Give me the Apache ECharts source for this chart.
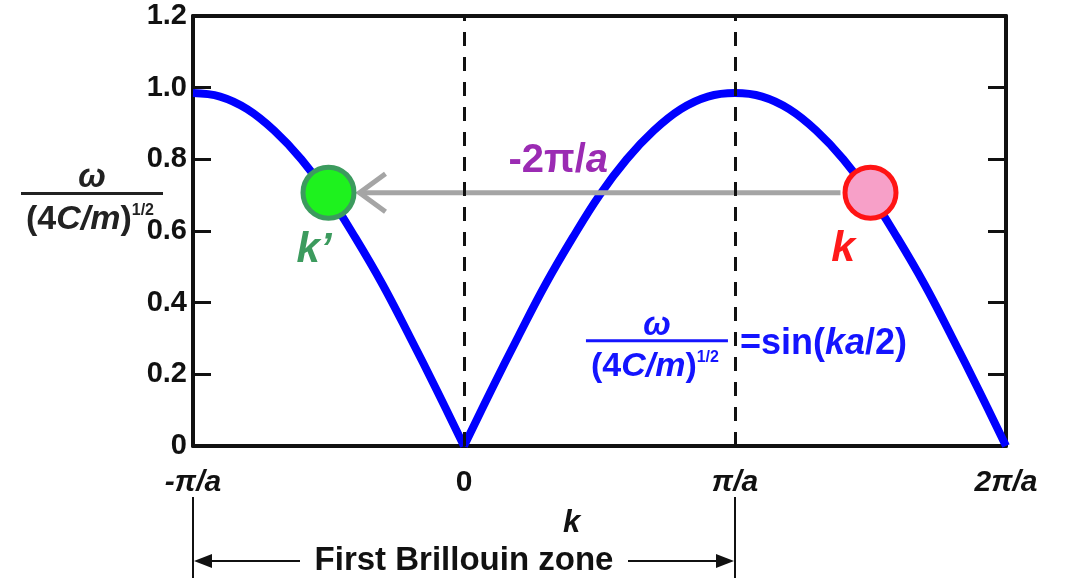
<!DOCTYPE html>
<html>
<head>
<meta charset="utf-8">
<script src="https://cdn.jsdelivr.net/npm/echarts@6/dist/echarts.min.js"></script>
<style>
  html, body { margin: 0; padding: 0; background: #fff; }
  #chart { width: 1068px; height: 578px; }
</style>
</head>
<body>
<div id="chart"></div>
<script>
// k in units of pi/a, omega in units of (4C/m)^1/2
var kValues = [-1.0, -0.9, -0.8, -0.7, -0.6, -0.5, -0.4, -0.3, -0.2, -0.1,
               0.0, 0.1, 0.2, 0.3, 0.4, 0.5, 0.6, 0.7, 0.8, 0.9,
               1.0, 1.1, 1.2, 1.3, 1.4, 1.5, 1.6, 1.7, 1.8, 1.9, 2.0];
var omegaValues = [0.985, 0.975, 0.94, 0.88, 0.80, 0.70, 0.58, 0.45, 0.305, 0.155,
                   0, 0.155, 0.305, 0.45, 0.58, 0.70, 0.80, 0.88, 0.94, 0.975,
                   0.985, 0.975, 0.94, 0.88, 0.80, 0.70, 0.58, 0.45, 0.305, 0.155, 0];
var cuspIndex = 10;

var xTickValues = [-1, 0, 1, 2];
var xTickLabels = ['-π/a', '0', 'π/a', '2π/a'];
var yTickValues = [0, 0.2, 0.4, 0.6, 0.8, 1.0, 1.2];
var yTickLabels = ['0', '0.2', '0.4', '0.6', '0.8', '1.0', '1.2'];

var kPrime = [-0.5, 0.707];
var kPoint = [1.5, 0.707];
var zoneEdges = [-1, 1];

var FONT = '"Liberation Sans", Arial, Helvetica, sans-serif';

var leftBranch = [], rightBranch = [];
for (var i = 0; i < kValues.length; i++) {
    if (i <= cuspIndex) leftBranch.push([kValues[i], omegaValues[i]]);
    if (i >= cuspIndex) rightBranch.push([kValues[i], omegaValues[i]]);
}

function fraction(cx, barY, color) {
    return [
        {type: 'text', x: cx, y: barY - 15, style: {
            text: 'ω', fill: color, fontFamily: FONT, fontSize: 33, fontWeight: 'bold',
            fontStyle: 'italic', align: 'center', verticalAlign: 'middle'}},
        {type: 'rect', shape: {x: cx - 71, y: barY - 1.5, width: 142, height: 3},
            style: {fill: color}},
        {type: 'text', x: cx - 2, y: barY + 26, style: {
            text: '{n|(4}{i|C/m}{n|)}{s|1/2}', fill: color, align: 'center', verticalAlign: 'middle',
            rich: {
                n: {fontFamily: FONT, fontSize: 34, fontWeight: 'bold', fill: color},
                i: {fontFamily: FONT, fontSize: 34, fontWeight: 'bold', fontStyle: 'italic', fill: color},
                s: {fontFamily: FONT, fontSize: 16, fontWeight: 'bold', fill: color, verticalAlign: 'top'}
            }}}
    ];
}

function drawNotes(params, api) {
    var pL = api.coord(kPrime), pR = api.coord(kPoint);
    var items = [];

    // shift by reciprocal lattice vector
    var ay = pR[1], tail = pR[0] - 30, head = pL[0] + 31;
    items.push({type: 'line', shape: {x1: tail, y1: ay, x2: head, y2: ay},
        style: {stroke: '#a5a5a5', lineWidth: 5}});
    items.push({type: 'polyline', shape: {points: [[head + 26, ay - 19], [head, ay], [head + 26, ay + 19]]},
        style: {stroke: '#a5a5a5', lineWidth: 5, fill: null}});

    var sh = api.coord([0.348, 0.795]);
    items.push({type: 'text', x: sh[0], y: sh[1], style: {
        text: '{n|-2π/}{i|a}', align: 'center', verticalAlign: 'middle',
        rich: {
            n: {fontFamily: FONT, fontSize: 40, fontWeight: 'bold', fill: '#9b2bb3'},
            i: {fontFamily: FONT, fontSize: 40, fontWeight: 'bold', fontStyle: 'italic', fill: '#9b2bb3'}
        }}});

    var lp = api.coord([-0.553, 0.545]);
    items.push({type: 'text', x: lp[0], y: lp[1], style: {
        text: 'k’', fill: '#3c9b5e', fontFamily: FONT, fontSize: 42, fontWeight: 'bold',
        fontStyle: 'italic', align: 'center', verticalAlign: 'middle'}});
    var lk = api.coord([1.399, 0.55]);
    items.push({type: 'text', x: lk[0], y: lk[1], style: {
        text: 'k', fill: '#ff1a1a', fontFamily: FONT, fontSize: 43, fontWeight: 'bold',
        fontStyle: 'italic', align: 'center', verticalAlign: 'middle'}});

    // dispersion formula
    var fp = api.coord([0.712, 0.294]);
    items = items.concat(fraction(fp[0], fp[1], '#1414ff'));
    items.push({type: 'text', x: fp[0] + 83, y: fp[1] + 3, style: {
        text: '{n|=sin(}{i|ka}{n|/2)}', align: 'left', verticalAlign: 'middle',
        rich: {
            n: {fontFamily: FONT, fontSize: 36, fontWeight: 'bold', fill: '#1414ff'},
            i: {fontFamily: FONT, fontSize: 36, fontWeight: 'bold', fontStyle: 'italic', fill: '#1414ff'}
        }}});

    // y axis title
    var yl = api.coord([-1, 0.705]);
    items = items.concat(fraction(yl[0] - 101, yl[1], '#222'));

    // first Brillouin zone
    var zA = api.coord([zoneEdges[0], 0]), zB = api.coord([zoneEdges[1], 0]);
    var top = zA[1] + 51, bot = zA[1] + 140, my = zA[1] + 115;
    items.push({type: 'line', shape: {x1: zA[0], y1: top, x2: zA[0], y2: bot}, style: {stroke: '#111', lineWidth: 2}});
    items.push({type: 'line', shape: {x1: zB[0], y1: top, x2: zB[0], y2: bot}, style: {stroke: '#111', lineWidth: 2}});
    items.push({type: 'line', shape: {x1: zA[0] + 14, y1: my, x2: zA[0] + 107, y2: my}, style: {stroke: '#111', lineWidth: 2}});
    items.push({type: 'polygon', shape: {points: [[zA[0] + 1, my], [zA[0] + 19, my - 7], [zA[0] + 19, my + 7]]}, style: {fill: '#111'}});
    items.push({type: 'line', shape: {x1: zB[0] - 14, y1: my, x2: zB[0] - 107, y2: my}, style: {stroke: '#111', lineWidth: 2}});
    items.push({type: 'polygon', shape: {points: [[zB[0] - 1, my], [zB[0] - 19, my - 7], [zB[0] - 19, my + 7]]}, style: {fill: '#111'}});
    items.push({type: 'text', x: (zA[0] + zB[0]) / 2, y: my, style: {
        text: 'First Brillouin zone', fill: '#111', fontFamily: FONT, fontSize: 33, fontWeight: 'bold',
        align: 'center', verticalAlign: 'middle'}});

    return {type: 'group', children: items};
}

var chart = echarts.init(document.getElementById('chart'), null, {renderer: 'canvas'});

var axisLine = {show: true, onZero: false, lineStyle: {color: '#111', width: 4}};

var option = {
    animation: false,
    backgroundColor: '#fff',
    grid: {left: 193, right: 62, top: 16, bottom: 132, outerBoundsMode: 'none'},
    xAxis: [{
        type: 'value', min: -1, max: 2, interval: 1,
        axisLine: axisLine, axisTick: {show: false}, splitLine: {show: false},
        axisLabel: {
            margin: 22, color: '#111',
            formatter: function (v) {
                var s = xTickLabels[xTickValues.indexOf(v)];
                return s === '0' ? '{n|0}' : '{i|' + s + '}';
            },
            rich: {
                n: {fontFamily: FONT, fontSize: 30, fontWeight: 'bold', color: '#111'},
                i: {fontFamily: FONT, fontSize: 30, fontWeight: 'bold', fontStyle: 'italic', color: '#111'}
            }
        },
        name: 'k', nameLocation: 'middle', nameGap: 62,
        nameTextStyle: {fontFamily: FONT, fontSize: 31, fontWeight: 'bold', fontStyle: 'italic',
            color: '#111', padding: [0, 56, 0, 0]}
    }, {
        type: 'value', position: 'top', min: -1, max: 2, interval: 1,
        axisLine: axisLine, axisTick: {show: false}, axisLabel: {show: false}, splitLine: {show: false}
    }],
    yAxis: [{
        type: 'value', min: 0, max: 1.2, interval: 0.2,
        axisLine: axisLine,
        axisTick: {show: true, inside: true, length: 18, lineStyle: {color: '#111', width: 3}},
        splitLine: {show: false},
        axisLabel: {
            margin: 6, color: '#111', fontFamily: FONT, fontSize: 29, fontWeight: 'bold',
            formatter: function (v) {
                var idx = Math.round(v / 0.2);
                return yTickLabels[idx];
            }
        }
    }, {
        type: 'value', position: 'right', min: 0, max: 1.2, interval: 0.2,
        axisLine: axisLine,
        axisTick: {show: true, inside: true, length: 18, lineStyle: {color: '#111', width: 3}},
        axisLabel: {show: false}, splitLine: {show: false}
    }],
    series: [{
        type: 'line', data: leftBranch, smooth: 0.4, showSymbol: false,
        lineStyle: {color: '#0000ff', width: 8}, z: 3,
        markLine: {
            silent: true, symbol: ['none', 'none'], label: {show: false},
            lineStyle: {color: '#111', width: 3, type: [14, 11]},
            data: [{xAxis: 0}, {xAxis: 1}]
        }
    }, {
        type: 'line', data: rightBranch, smooth: 0.4, showSymbol: false,
        lineStyle: {color: '#0000ff', width: 8}, z: 3
    }, {
        type: 'custom', renderItem: drawNotes, data: [[0, 0]], clip: false, silent: true, z: 4
    }, {
        type: 'scatter', symbol: 'circle', symbolSize: 51, z: 5, silent: true,
        itemStyle: {opacity: 1},
        data: [
            {value: kPrime, itemStyle: {color: '#1ef21e', borderColor: '#3c9b5e', borderWidth: 5, opacity: 1}},
            {value: kPoint, itemStyle: {color: '#f7a0c8', borderColor: '#ff1414', borderWidth: 5, opacity: 1}}
        ]
    }]
};

chart.setOption(option);
</script>
</body>
</html>
